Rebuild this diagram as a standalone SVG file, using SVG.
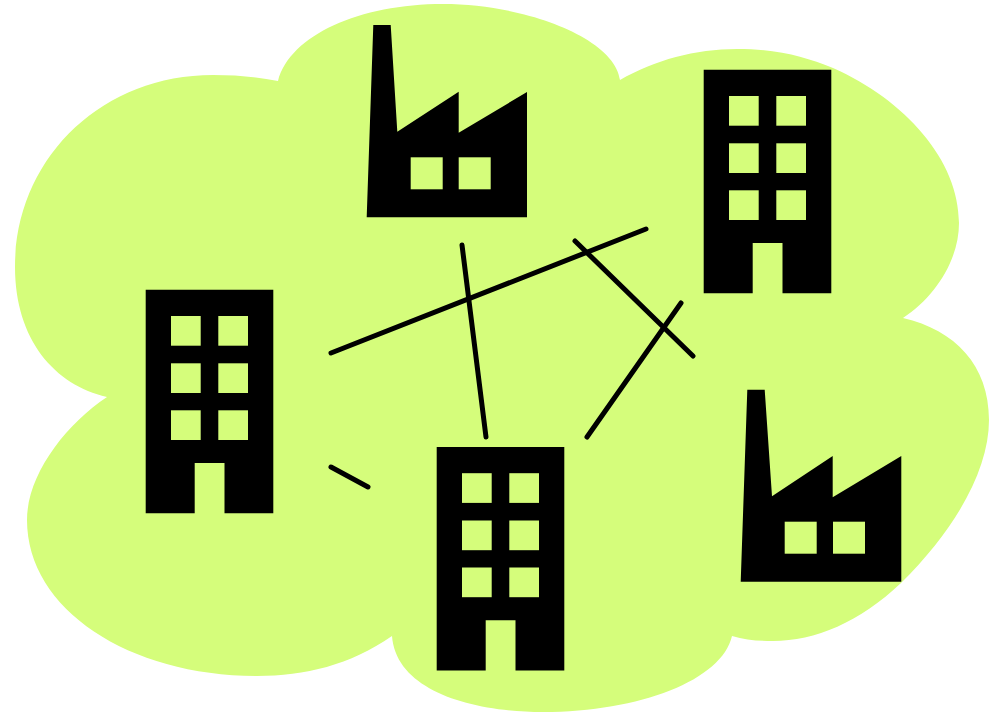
<svg xmlns="http://www.w3.org/2000/svg" width="997" height="713" viewBox="0 0 997 713">
<defs>
<style>.c{stroke:#000;stroke-width:5;stroke-linecap:round;fill:none}.w{fill:#d5fd7b}</style>
<g id="office"><path d="M0 0H127.6V223.6H78.8V173.3H49V223.6H0Z"/><g class="w"><rect x="25.3" y="26.3" width="29.7" height="29.7"/><rect x="72.6" y="26.3" width="29.7" height="29.7"/><rect x="25.3" y="73.6" width="29.7" height="29.7"/><rect x="72.6" y="73.6" width="29.7" height="29.7"/><rect x="25.3" y="120.6" width="29.7" height="29.7"/><rect x="72.6" y="120.6" width="29.7" height="29.7"/></g></g>
</defs>
<rect width="997" height="713" fill="#fff"/>
<path id="cloud" class="w" d="M278 81C290 35 360 4 443 4C525 4 615 38 620 80C655 60 695 49 737 49C780 49 805 57 833 68C905 100 959 160 959 223C959 260 935 297 903 318C955 330 989 365 989 420C989 470 955 530 901 583C860 622 815 641 773 641C758 641 745 640 732 636C722 680 640 712 543 712C470 712 396 690 392 636C350 665 305 676 257 676C130 676 27 610 27 520C27 475 65 425 107 397C55 385 15 340 15 267C15 160 100 75 213 75C236 75 258 77 278 81Z"/>
<g id="connectors"><path class="c" d="M331 353L646 229"/><path class="c" d="M462 245L486 437"/><path class="c" d="M575 241L693 356"/><path class="c" d="M681 303L587 437"/><path class="c" d="M331 467L368 487"/></g>
<g id="factory-top"><path d="M366.700 217.300L373.300 25H390.700L397.300 131.700L458.700 91.700V132.700L527 92V217.300Z"/><g class="w"><rect x="410.700" y="157.300" width="32" height="32"/><rect x="458.700" y="157.300" width="32" height="32"/></g></g>
<g id="factory-right"><path d="M740.700 581.700L747.300 389.700H764.700L772 496.300L832.700 456V497.300L901.300 456V581.700Z"/><g class="w"><rect x="784.700" y="521.700" width="32" height="32"/><rect x="833" y="521.700" width="32" height="32"/></g></g>
<g id="office-top-right"><use href="#office" x="703.700" y="69.700"/></g>
<g id="office-left"><use href="#office" x="145.700" y="289.700"/></g>
<g id="office-bottom"><use href="#office" x="436.700" y="446.900"/></g>
</svg>
